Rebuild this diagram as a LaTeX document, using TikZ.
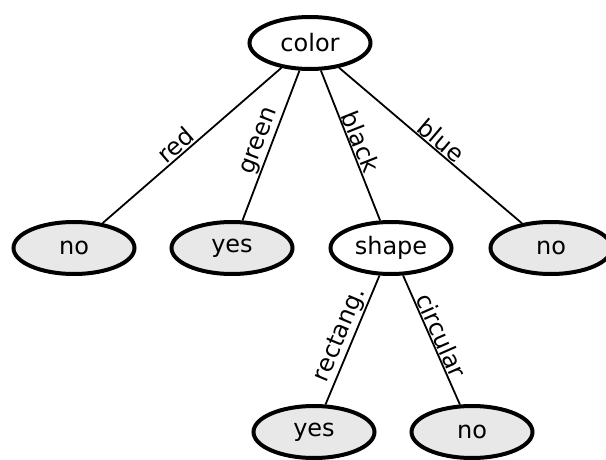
\documentclass[tikz,border=0pt]{standalone}
\usepackage{fontspec}
\setmainfont{DejaVu Sans}
\usetikzlibrary{shapes.geometric}
\definecolor{leafgray}{HTML}{E8E8E8}
\begin{document}
\begin{tikzpicture}[x=1pt,y=-1pt,
  treenode/.style={ellipse, draw=black, line width=4pt, minimum width=121pt,
    minimum height=52pt, inner sep=0pt, font=\fontsize{24}{28}\selectfont},
  decision/.style={treenode, fill=white},
  leaf/.style={treenode, fill=leafgray},
  branch/.style={line width=1.8pt},
  lbl/.style={midway, above, sloped, inner sep=1pt, font=\fontsize{24}{28}\selectfont}]
\useasboundingbox (0,0) rectangle (606,460);
\clip (0,0) rectangle (606,460);

% nodes of the tree
\node[decision] (color) at (310,43) {color};
\node[leaf]     (red)   at (74,248)  {no};
\node[leaf]     (green) at (232,248) {yes};
\node[decision] (shape) at (391,248) {shape};
\node[leaf]     (blue)  at (551,248) {no};
\node[leaf]     (rect)  at (314,432) {yes};
\node[leaf]     (circ)  at (472,432) {no};

% branches with their attribute values
\draw[branch] (color) -- (red)   node[lbl, pos=0.55] {red};
\draw[branch] (color) -- (green) node[lbl] {green};
\draw[branch] (color) -- (shape) node[lbl] {black};
\draw[branch] (color) -- (blue)  node[lbl, pos=0.52] {blue};
\draw[branch] (shape) -- (rect)  node[lbl] {rectang.};
\draw[branch] (shape) -- (circ)  node[lbl] {circular};
\end{tikzpicture}
\end{document}
